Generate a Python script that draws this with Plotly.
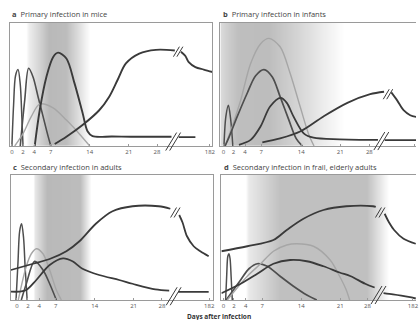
import plotly.graph_objects as go

# ---------------- data ----------------
PANEL_LETTERS = ["a", "b", "c", "d"]
PANEL_TITLES = ["Primary infection in mice", "Primary infection in infants",
                "Secondary infection in adults", "Secondary infection in frail, elderly adults"]
TICK_LABELS = ["0", "2", "4", "7", "14", "21", "28", "182"]
X_TITLE = "Days after infection"

# panel a (x = display day position, y = relative level 0..1)
a1_x = [0.0, 0.3, 0.65, 1.1, 1.5, 1.8, 2.0]
a1_y = [0, 0.33, 0.57, 0.62, 0.5, 0.22, 0]
a2_x = [1.5, 2.3, 3.0, 3.8, 4.7, 5.6, 6.5, 7.0]
a2_y = [0, 0.37, 0.63, 0.56, 0.40, 0.24, 0.08, 0]
a3_x = [0.5, 2.0, 3.5, 5.0, 7.4, 9.8, 12.1, 14.0]
a3_y = [0, 0.10, 0.24, 0.34, 0.31, 0.21, 0.10, 0]
a4_x = [4.1, 5.0, 6.2, 7.4, 8.3, 9.8, 11.25, 12.7, 13.6, 14.5, 18, 21.4, 25, 28.7, None, 30.0, 31.5, 33.0]
a4_y = [0, 0.29, 0.56, 0.72, 0.757, 0.71, 0.51, 0.27, 0.12, 0.08, 0.077, 0.075, 0.075, 0.075, None, 0.072, 0.072, 0.072]
a5_x = [7.7, 9.8, 12.7, 15.7, 17.5, 19.0, 20.5, 22.9, 25.9, 29.3, None, 30.4, 31.2, 31.8, 33.0, 34.5, 36.1]
a5_y = [0.016, 0.075, 0.17, 0.29, 0.40, 0.535, 0.67, 0.75, 0.78, 0.775, None, 0.765, 0.73, 0.68, 0.64, 0.62, 0.60]

# panel b
b1_x = [0.1, 0.45, 0.9, 1.3, 1.7]
b1_y = [0, 0.24, 0.33, 0.22, 0]
b2_x = [0.3, 1.6, 3.1, 4.9, 6.7, 8.2, 10.2, 12.0, 13.8, 15.3, 16.3]
b2_y = [0, 0.16, 0.37, 0.67, 0.83, 0.873, 0.805, 0.59, 0.32, 0.10, 0]
b3_x = [0.3, 1.0, 2.5, 4.3, 5.8, 7.3, 8.8, 10.2, 11.7, 13.1, 14.2]
b3_y = [0, 0.07, 0.24, 0.43, 0.57, 0.62, 0.56, 0.40, 0.22, 0.06, 0]
b4_x = [2.8, 4.9, 6.7, 8.4, 10.3, 11.4, 12.6, 14.5, 16.2, 20.9, 24.5, 27.8, None, 29.0, 31.5, 34.7]
b4_y = [0.01, 0.05, 0.16, 0.32, 0.39, 0.35, 0.24, 0.10, 0.067, 0.054, 0.05, 0.05, None, 0.048, 0.048, 0.048]
b5_x = [7.0, 10.2, 13.9, 18.0, 22.3, 26.4, 28.9, None, 30.2, 31.25, 32.4, 33.6, 34.7]
b5_y = [0.03, 0.062, 0.12, 0.24, 0.35, 0.42, 0.44, None, 0.435, 0.37, 0.29, 0.25, 0.235]

# panel c
c1_x = [-0.15, 0.2, 0.5, 0.85, 1.2, 1.5, 1.85]
c1_y = [0, 0.3, 0.55, 0.61, 0.5, 0.25, 0]
c2_x = [0.25, 1.7, 2.6, 3.5, 4.7, 5.9, 7.1, 8.0]
c2_y = [0, 0.27, 0.37, 0.41, 0.37, 0.24, 0.08, 0]
c3_x = [0.8, 1.7, 3.2, 4.7, 5.9, 7.1]
c3_y = [0, 0.13, 0.31, 0.24, 0.13, 0]
c4_x = [-1.07, 0.45, 1.7, 3.5, 5.9, 8.3, 10.0, 11.8, 14.8, 18.4, 20.8, 24.9, 27.4, None, 29.0, 32.0, 34.5]
c4_y = [0.067, 0.067, 0.08, 0.16, 0.28, 0.333, 0.31, 0.25, 0.20, 0.16, 0.13, 0.085, 0.075, None, 0.065, 0.065, 0.065]
c5_x = [-1.07, 2.9, 6.0, 8.9, 11.25, 14.2, 17.2, 20.8, 25.5, 27.6, None, 29.2, 29.8, 30.6, 31.8, 33.0, 34.5]
c5_y = [0.24, 0.29, 0.33, 0.39, 0.47, 0.61, 0.71, 0.75, 0.75, 0.73, None, 0.68, 0.62, 0.51, 0.43, 0.39, 0.35]

# panel d
d1_x = [0.4, 0.6, 0.8, 1.0, 1.2, 1.4, 1.6]
d1_y = [0, 0.2, 0.35, 0.37, 0.33, 0.18, 0]
d2_x = [0.5, 3.1, 4.6, 6.1, 7.9, 10.2, 12.6, 15.0, 16.8]
d2_y = [0, 0.16, 0.25, 0.29, 0.27, 0.19, 0.11, 0.04, 0]
d3_x = [0.7, 4.3, 6.7, 9.0, 11.4, 13.2, 16.2, 19.2, 20.9, 22.1, 22.7]
d3_y = [0, 0.19, 0.29, 0.39, 0.44, 0.45, 0.43, 0.32, 0.19, 0.08, 0]
d4_x = [-0.36, 3.1, 6.1, 9.0, 12.0, 15.0, 18.0, 20.9, 22.9, 25.5, 27.2, None, 28.8, 30.5, 32.0, 33.3, 34.6]
d4_y = [0.054, 0.13, 0.21, 0.29, 0.32, 0.31, 0.27, 0.22, 0.19, 0.13, 0.10, None, 0.055, 0.045, 0.035, 0.025, 0.012]
d5_x = [-0.36, 4.3, 9.0, 11.4, 14.4, 18.0, 22.1, 26.9, 27.4, None, 29.0, 29.8, 30.7, 32.4, 34.6]
d5_y = [0.39, 0.43, 0.48, 0.56, 0.65, 0.72, 0.75, 0.75, 0.745, None, 0.69, 0.62, 0.56, 0.49, 0.45]

# ---------------- styling / layout ----------------
W, H = 419, 320
PX_PER_DAY = 5.6
DARK = "#3a3a3a"
MID = "#4e4e4e"
LIGHT = "#a6a6a6"
FONT = "Open Sans, Noto Sans, sans-serif"

panels = [
    dict(ax="", box=(10, 214, 22.7, 146), xr=(-0.357, 36.07), mirror_y=True,
         ticks=[0, 2, 4, 7, 14, 21, 26.1, 35.6],
         curves=[(a1_x, a1_y, MID, 1.5), (a2_x, a2_y, MID, 1.6), (a3_x, a3_y, LIGHT, 1.4),
                 (a4_x, a4_y, DARK, 1.9), (a5_x, a5_y, DARK, 1.9)],
         shade=([-0.4, 2.6, 3.0, 4.8, 6.6, 9.8, 12.0, 14.0, 36.2], [0, 0, 0.25, 0.6, 1.0, 0.95, 0.45, 0, 0]),
         breaks=[(29.9, 0.765, 5, 3, 3.5), (29.0, 0.036, 9, 5.5, 4)]),
    dict(ax="2", box=(222, 419, 22.7, 146), xr=(-0.536, 34.64), mirror_y=False,
         ticks=[0, 1.8, 3.9, 6.8, 14, 21, 26.25, 34.3],
         curves=[(b1_x, b1_y, MID, 1.5), (b2_x, b2_y, LIGHT, 1.4), (b3_x, b3_y, MID, 1.7),
                 (b4_x, b4_y, DARK, 1.8), (b5_x, b5_y, DARK, 1.8)],
         shade=([-0.6, 0.9, 2.7, 8.0, 13.4, 17.9, 21.6, 34.7], [0.5, 0.72, 0.92, 0.95, 0.6, 0.25, 0, 0]),
         breaks=[(29.6, 0.42, 5, 3, 3.5), (28.4, 0.04, 9, 5.5, 4)]),
    dict(ax="3", box=(11, 215, 175, 300), xr=(-1.07, 35.36), mirror_y=True,
         ticks=[0, 2, 4, 7, 14, 21, 26.1, 34.6],
         curves=[(c1_x, c1_y, MID, 1.5), (c2_x, c2_y, LIGHT, 1.4), (c3_x, c3_y, MID, 1.6),
                 (c4_x, c4_y, DARK, 1.8), (c5_x, c5_y, DARK, 1.8)],
         shade=([-1.1, 2.8, 3.3, 5.4, 11.25, 13.4, 35.4], [0, 0, 0.35, 1.0, 0.95, 0, 0]),
         breaks=[(28.5, 0.70, 5, 3, 3.5), (28.2, 0.03, 9, 5.5, 4)]),
    dict(ax="4", box=(223, 419, 175, 300), xr=(-0.357, 34.64), mirror_y=False,
         ticks=[0, 1.9, 4, 7, 14, 21, 25.9, 34.1],
         curves=[(d1_x, d1_y, MID, 1.5), (d2_x, d2_y, MID, 1.7), (d3_x, d3_y, LIGHT, 1.4),
                 (d4_x, d4_y, DARK, 1.8), (d5_x, d5_y, DARK, 1.8)],
         shade=([-0.4, 4.0, 4.5, 10.2, 25.7, 29.6, 34.7], [0, 0, 0.3, 0.9, 0.9, 0, 0]),
         breaks=[(28.2, 0.70, 5, 3, 3.5), (27.9, 0.04, 9, 5.5, 4)]),
]

fig = go.Figure()
shapes = []
annotations = []
layout_axes = {}

for i, p in enumerate(panels):
    ax = p["ax"]
    xname, yname = "x" + ax, "y" + ax
    x0px, x1px, y0px, y1px = p["box"]
    ph = y1px - y0px

    sx, sz = p["shade"]
    fig.add_trace(go.Heatmap(x=sx, y=[-0.5, 1.5], z=[sz, sz], zmin=0, zmax=1, zsmooth="best",
                             colorscale=[[0, "#ffffff"], [1, "#b9b9b9"]], showscale=False,
                             hoverinfo="skip", xaxis=xname, yaxis=yname))
    for cx, cy, col, lw in p["curves"]:
        fig.add_trace(go.Scatter(x=cx, y=cy, mode="lines", line=dict(color=col, width=lw, shape="spline", smoothing=0.9),
                                 hoverinfo="skip", showlegend=False, xaxis=xname, yaxis=yname))

    for (xc, yc, hh, hw, sp) in p["breaks"]:
        for off in (-sp / 2, sp / 2):
            shapes.append(dict(type="line", xref=xname, yref=yname + " domain",
                               x0=xc + (off - hw) / PX_PER_DAY, y0=yc - hh / ph,
                               x1=xc + (off + hw) / PX_PER_DAY, y1=yc + hh / ph,
                               line=dict(color=DARK, width=1)))

    layout_axes["xaxis" + ax] = dict(
        domain=[x0px / W, min(x1px / W, 1.0)], range=list(p["xr"]), anchor=yname,
        showgrid=False, zeroline=False, showline=True, linecolor="#9a9a9a", linewidth=1, mirror=True,
        tickmode="array", tickvals=p["ticks"], ticktext=TICK_LABELS,
        ticks="inside", ticklen=2, tickcolor="#9a9a9a",
        tickfont=dict(family=FONT, size=6, color="#555555"), fixedrange=True)
    layout_axes["yaxis" + ax] = dict(
        domain=[1 - y1px / H, 1 - y0px / H], range=[0, 1], anchor=xname,
        showgrid=False, zeroline=False, showline=True, linecolor="#9a9a9a", linewidth=1,
        mirror=p["mirror_y"], showticklabels=False, ticks="", fixedrange=True)

    annotations.append(dict(
        xref="paper", yref="paper", x=(x0px + 0.5) / W, y=1 - (y0px - 8.5) / H,
        xanchor="left", yanchor="middle", showarrow=False,
        text="<b>" + PANEL_LETTERS[i] + "</b>\u00a0\u00a0" + PANEL_TITLES[i],
        font=dict(family=FONT, size=7.5, color="#444444")))

annotations.append(dict(xref="paper", yref="paper", x=221 / W, y=1 - 316 / H, xanchor="center", yanchor="middle",
                        showarrow=False, text="<b>" + X_TITLE + "</b>",
                        font=dict(family=FONT, size=6.5, color="#333333")))

fig.update_layout(width=W, height=H, margin=dict(l=0, r=0, t=0, b=0),
                  paper_bgcolor="white", plot_bgcolor="white", showlegend=False,
                  shapes=shapes, annotations=annotations, **layout_axes)

fig.write_html("out.html", config={"displayModeBar": False})
